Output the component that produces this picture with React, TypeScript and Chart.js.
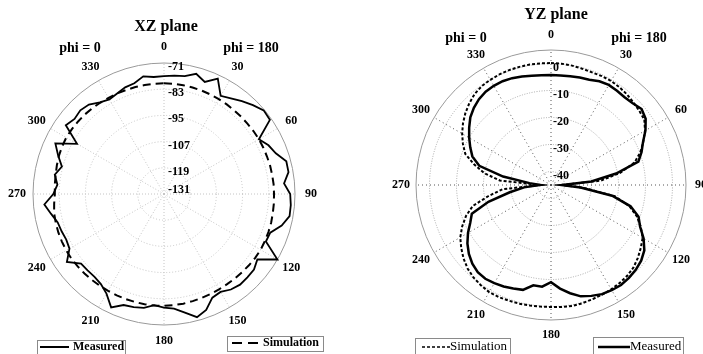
import React, { useEffect, useRef } from 'react';
import { Chart, registerables } from 'chart.js';

Chart.register(...registerables);

// ---------- data ----------
const ANGLES = [
  0, 5, 10, 15, 20, 25, 30, 35, 40, 45, 50, 55, 60, 65, 70, 75, 80, 85,
  90, 95, 100, 105, 110, 115, 120, 125, 130, 135, 140, 145, 150, 155, 160, 165, 170, 175,
  180, 185, 190, 195, 200, 205, 210, 215, 220, 225, 230, 235, 240, 245, 250, 255, 260, 265,
  270, 275, 280, 285, 290, 295, 300, 305, 310, 315, 320, 325, 330, 335, 340, 345, 350, 355,
];
const ANGLE_LABELS = [0, 30, 60, 90, 120, 150, 180, 210, 240, 270, 300, 330];

const XZ_GRID = [-131, -119, -107, -95, -83, -71];
const XZ_TICK_LABELS = [-71, -83, -95, -107, -119, -131];
const XZ_MEASURED = [
  -77.0, -76.6, -76.2, -74.0, -76.4, -72.7, -79.1, -77.6, -75.5, -73.4, -71.4, -71.8,
  -80.8, -78.2, -76.5, -73.0, -73.1, -75.8, -73.2, -72.7, -72.6, -75.2, -79.2, -79.5,
  -71.0, -78.8, -77.2, -77.0, -76.8, -77.6, -79.2, -78.6, -74.5, -72.6, -75.8, -78.3,
  -79.0, -79.9, -78.0, -77.4, -76.9, -73.7, -78.3, -80.6, -81.5, -81.5, -81.4, -76.7,
  -81.0, -81.6, -81.1, -80.6, -78.5, -76.0, -80.3, -82.0, -80.2, -82.6, -79.4, -76.1,
  -85.0, -76.1, -77.5, -76.8, -77.5, -79.8, -81.0, -80.2, -79.0, -78.5, -76.3, -77.2,
];
const XZ_SIMULATION = [
  -80.3, -80.3, -80.4, -80.5, -80.6, -80.7, -80.8, -80.9, -81.0, -81.0, -81.0, -80.9,
  -80.8, -80.8, -80.8, -80.7, -80.7, -80.6, -80.6, -80.5, -80.4, -80.2, -80.1, -80.0,
  -79.9, -80.0, -80.2, -80.4, -80.5, -80.6, -80.6, -80.5, -80.4, -80.2, -80.0, -79.9,
  -79.8, -79.7, -79.7, -79.8, -79.8, -79.8, -79.8, -79.7, -79.6, -79.5, -79.4, -79.3,
  -79.3, -79.4, -79.5, -79.7, -79.9, -80.5, -81.0, -80.8, -80.6, -80.2, -79.8, -79.5,
  -79.3, -79.4, -79.5, -79.6, -79.8, -80.0, -80.2, -80.2, -80.3, -80.3, -80.3, -80.3,
];

const YZ_GRID = [-45, -40, -30, -20, -10, 0, 5];
const YZ_TICK_LABELS = [0, -10, -20, -30, -40];
const YZ_SIMULATION = [
  0.2, 0.1, -0.1, -0.4, -0.6, -0.5, -0.5, -0.8, -1.2, -1.8, -2.3, -2.8,
  -4.8, -7.3, -9.8, -13.0, -19.0, -26.5, -41.0, -33.0, -21.0, -15.0, -11.2, -8.3,
  -5.8, -4.4, -3.0, -1.8, -1.1, -0.7, -0.4, -0.2, 0.0, 0.3, 0.5, 0.4,
  0.2, 0.2, 0.3, 0.5, 0.6, 0.8, 0.8, 0.3, -0.3, -1.3, -2.7, -4.4,
  -6.2, -8.7, -11.5, -15.0, -21.5, -27.0, -41.0, -26.0, -20.0, -15.5, -11.2, -9.0,
  -7.0, -5.2, -3.6, -2.2, -1.0, -0.3, 0.0, 0.2, 0.3, 0.3, 0.3, 0.2,
];
const YZ_MEASURED = [
  -4.3, -4.3, -4.1, -3.8, -3.5, -2.6, -2.2, -2.4, -2.6, -2.2, -1.2, -2.2,
  -4.6, -7.4, -9.3, -11.5, -20.5, -30.0, -41.0, -34.0, -22.0, -14.5, -10.5, -8.6,
  -5.4, -2.8, -1.4, -0.6, -0.1, 0.2, 0.0, -0.4, -1.3, -2.3, -4.3, -6.5,
  -9.0, -7.2, -7.3, -4.8, -4.2, -3.5, -3.0, -2.6, -2.8, -3.8, -5.3, -7.2,
  -9.5, -12.0, -13.8, -21.0, -29.5, -35.0, -41.0, -37.0, -27.0, -17.5, -14.0, -12.0,
  -10.0, -8.0, -6.0, -4.6, -3.5, -2.8, -2.6, -2.6, -2.9, -3.4, -3.9, -4.2,
];

// ---------- drawing helpers ----------
const FONT = '"Liberation Serif", "Times New Roman", Times, serif';

type LegendBox = {
  x: number; y: number; w: number; h: number;
  s1: number; s2: number; ly: number; dash: number[]; lw: number;
  text: string; tx: number; bold: boolean; size: number;
};
type Deco = {
  title: string; titleX: number; titleY: number;
  phiY: number; phi0X: number; phi180X: number;
  labelGap: number; tickLabels: number[]; tickDx: number; tickDy: number; centerDy: number;
  outerColor: string;
  legends: LegendBox[];
};

function decoPlugin(d: Deco) {
  return {
    id: 'deco',
    afterDraw(chart: any) {
      const ctx = chart.ctx as CanvasRenderingContext2D;
      const s = chart.scales.r;
      ctx.save();
      ctx.fillStyle = '#000';
      // title & phi labels
      ctx.textAlign = 'center';
      ctx.textBaseline = 'middle';
      ctx.font = `bold 16px ${FONT}`;
      ctx.fillText(d.title, d.titleX, d.titleY);
      ctx.font = `bold 14px ${FONT}`;
      ctx.fillText('phi = 0', d.phi0X, d.phiY);
      ctx.fillText('phi = 180', d.phi180X, d.phiY);
      // angle labels
      ctx.font = `bold 12px ${FONT}`;
      ANGLE_LABELS.forEach((a) => {
        const idx = ANGLES.indexOf(a);
        const p = s.getPointPosition(idx, s.drawingArea + d.labelGap);
        ctx.fillText(String(a), p.x, p.y);
      });
      // radial tick labels
      ctx.textAlign = 'left';
      d.tickLabels.forEach((v) => {
        const dist = s.getDistanceFromCenterForValue(v);
        const dy = dist < 1 ? d.centerDy : d.tickDy;
        ctx.fillText(String(v), s.xCenter + d.tickDx, s.yCenter - dist + dy);
      });
      // legends
      d.legends.forEach((L) => {
        ctx.save();
        ctx.setLineDash([]);
        ctx.strokeStyle = '#8a8a8a';
        ctx.lineWidth = 1;
        ctx.strokeRect(L.x + 0.5, L.y + 0.5, L.w, L.h);
        ctx.strokeStyle = '#000';
        ctx.lineWidth = L.lw;
        ctx.setLineDash(L.dash);
        ctx.beginPath();
        ctx.moveTo(L.s1, L.ly);
        ctx.lineTo(L.s2, L.ly);
        ctx.stroke();
        ctx.setLineDash([]);
        ctx.font = `${L.bold ? 'bold ' : ''}${L.size}px ${FONT}`;
        ctx.textAlign = 'left';
        ctx.textBaseline = 'middle';
        ctx.fillStyle = '#000';
        ctx.fillText(L.text, L.tx, L.ly);
        ctx.restore();
      });
      ctx.restore();
    },
  };
}

function makeChart(
  canvas: HTMLCanvasElement,
  opts: {
    grid: number[]; min: number; max: number;
    datasets: any[]; padding: any; deco: Deco;
    ringColor: string; ringDash: number[]; spokeColor: string; spokeDash: number[];
  }
) {
  return new Chart(canvas, {
    type: 'radar',
    data: { labels: ANGLES.map(String), datasets: opts.datasets },
    options: {
      responsive: false,
      animation: false,
      layout: { padding: opts.padding },
      plugins: { legend: { display: false }, tooltip: { enabled: false }, title: { display: false } },
      elements: { point: { radius: 0, hoverRadius: 0 }, line: { tension: 0 } },
      scales: {
        r: {
          min: opts.min,
          max: opts.max,
          afterBuildTicks: (scale: any) => {
            scale.ticks = opts.grid.map((v) => ({ value: v }));
          },
          ticks: { display: false },
          pointLabels: { display: false },
          grid: {
            circular: true,
            lineWidth: 1,
            color: (c: any) => (c.tick && c.tick.value === opts.max ? opts.deco.outerColor : opts.ringColor),
          },
          border: {
            dash: (c: any) => (c.tick && c.tick.value === opts.max ? [] : opts.ringDash),
          },
          angleLines: {
            display: true,
            lineWidth: 1,
            color: (c: any) => (c.index % 6 === 0 ? opts.spokeColor : 'rgba(0,0,0,0)'),
            borderDash: opts.spokeDash,
          },
        } as any,
      },
    } as any,
    plugins: [decoPlugin(opts.deco)],
  });
}

export default function App() {
  const leftRef = useRef<HTMLCanvasElement>(null);
  const rightRef = useRef<HTMLCanvasElement>(null);

  useEffect(() => {
    const left = makeChart(leftRef.current!, {
      grid: XZ_GRID,
      min: -131,
      max: -71,
      padding: { left: 33, top: 63, right: 55, bottom: 29 },
      ringColor: '#c4c4c4',
      ringDash: [1, 2],
      spokeColor: '#c4c4c4',
      spokeDash: [1, 2],
      datasets: [
        { label: 'Measured', data: XZ_MEASURED, borderColor: '#000', borderWidth: 1.8, fill: false, pointRadius: 0 },
        { label: 'Simulation', data: XZ_SIMULATION, borderColor: '#000', borderWidth: 2, borderDash: [8, 5], fill: false, pointRadius: 0 },
      ],
      deco: {
        title: 'XZ plane', titleX: 166, titleY: 27,
        phiY: 48, phi0X: 80, phi180X: 251,
        labelGap: 16, tickLabels: XZ_TICK_LABELS, tickDx: 4, tickDy: 4, centerDy: -4,
        outerColor: '#9a9a9a',
        legends: [
          { x: 37, y: 340, w: 88, h: 20, s1: 40, s2: 69, ly: 347, dash: [], lw: 2, text: 'Measured', tx: 73, bold: true, size: 12 },
          { x: 227, y: 336, w: 96, h: 15, s1: 232, s2: 258, ly: 343, dash: [10, 6], lw: 2, text: 'Simulation', tx: 263, bold: true, size: 12 },
        ],
      },
    });
    const right = makeChart(rightRef.current!, {
      grid: YZ_GRID,
      min: -45,
      max: 5,
      padding: { left: 66, top: 50, right: 17, bottom: 34 },
      ringColor: '#a8a8a8',
      ringDash: [1, 1.5],
      spokeColor: '#555',
      spokeDash: [1, 3],
      datasets: [
        { label: 'Simulation', data: YZ_SIMULATION, borderColor: '#000', borderWidth: 2, borderDash: [3, 2], fill: false, pointRadius: 0 },
        { label: 'Measured', data: YZ_MEASURED, borderColor: '#000', borderWidth: 2.5, fill: false, pointRadius: 0 },
      ],
      deco: {
        title: 'YZ plane', titleX: 206, titleY: 15,
        phiY: 38, phi0X: 116, phi180X: 289,
        labelGap: 15, tickLabels: YZ_TICK_LABELS, tickDx: 2, tickDy: 4, centerDy: 0,
        outerColor: '#9a9a9a',
        legends: [
          { x: 65, y: 338, w: 95, h: 20, s1: 72, s2: 100, ly: 347, dash: [3, 2], lw: 1.6, text: 'Simulation', tx: 100, bold: false, size: 13 },
          { x: 243, y: 337, w: 90, h: 20, s1: 248, s2: 280, ly: 347, dash: [], lw: 2.5, text: 'Measured', tx: 280, bold: false, size: 13 },
        ],
      },
    });
    return () => {
      left.destroy();
      right.destroy();
    };
  }, []);

  return (
    <div style={{ position: 'absolute', left: 0, top: 0, width: 703, height: 354, background: '#fff', overflow: 'hidden' }}>
      <canvas ref={leftRef} width={350} height={354} style={{ position: 'absolute', left: 0, top: 0, width: 350, height: 354 }} />
      <canvas ref={rightRef} width={353} height={354} style={{ position: 'absolute', left: 350, top: 0, width: 353, height: 354 }} />
    </div>
  );
}
